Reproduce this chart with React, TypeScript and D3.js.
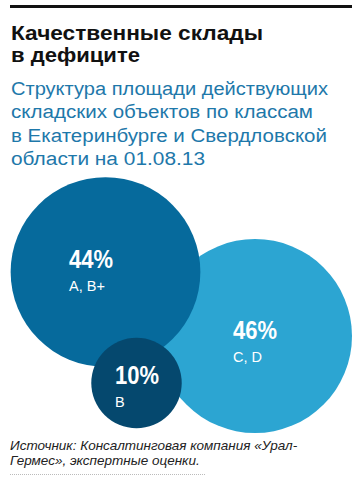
import React from "react";
import * as d3 from "d3";

const titleLines = ["Качественные склады", "в дефиците"];
const subtitleLines = [
  "Структура площади действующих",
  "складских объектов по классам",
  "в Екатеринбурге и Свердловской",
  "области на 01.08.13",
];
const sourceLines = [
  "Источник: Консалтинговая компания «Урал-",
  "Гермес», экспертные оценки.",
];

const categories = ["A, B+", "C, D", "B"];
const shares = [44, 46, 10];

// layout (bubble centers, label anchors, colors, text widths), not data
const centers: [number, number][] = [
  [105.5, 272],
  [255, 336],
  [136.5, 383],
];
const labelPos: [number, number][] = [
  [69, 268],
  [233, 339],
  [115, 384],
];
const colors = ["#066a9c", "#2ca5d2", "#05486e"];
const drawOrder = [1, 0, 2];
const titleWidths = [252, 129];
const subtitleWidths = [317, 302, 316, 194];

export default function App() {
  const W = 360;
  const H = 478;
  const r = d3.scaleSqrt().domain([0, 46]).range([0, 97]);

  return (
    <svg
      width={W}
      height={H}
      style={{ position: "absolute", left: 0, top: 0, background: "#fff" }}
    >
      <rect x={10} y={5} width={342} height={3} fill="#111" />
      {titleLines.map((t, i) => (
        <text
          key={t}
          x={11}
          y={40 + i * 22}
          fontFamily="Liberation Sans, Arial, sans-serif"
          fontWeight="bold"
          fontSize={21}
          fill="#111"
          textLength={titleWidths[i]}
          lengthAdjust="spacingAndGlyphs"
        >
          {t}
        </text>
      ))}
      {subtitleLines.map((t, i) => (
        <text
          key={t}
          x={11}
          y={95 + i * 23.3}
          fontFamily="Liberation Sans, Arial, sans-serif"
          fontSize={18}
          fill="#1e78aa"
          textLength={subtitleWidths[i]}
          lengthAdjust="spacingAndGlyphs"
        >
          {t}
        </text>
      ))}
      {drawOrder.map((i) => (
        <circle
          key={categories[i]}
          cx={centers[i][0]}
          cy={centers[i][1]}
          r={r(shares[i])}
          fill={colors[i]}
        />
      ))}
      {shares.map((s, i) => (
        <g key={"l" + i}>
          <text
            x={labelPos[i][0]}
            y={labelPos[i][1]}
            fontFamily="Liberation Sans, Arial, sans-serif"
            fontWeight="bold"
            fontSize={25}
            fill="#fff"
            textLength={44}
            lengthAdjust="spacingAndGlyphs"
          >
            {`${s}%`}
          </text>
          <text
            x={labelPos[i][0]}
            y={labelPos[i][1] + 22.5}
            fontFamily="Liberation Sans, Arial, sans-serif"
            fontSize={14.5}
            fill="#fff"
          >
            {categories[i]}
          </text>
        </g>
      ))}
      {sourceLines.map((t, i) => (
        <text
          key={t}
          x={10}
          y={450 + i * 15}
          fontFamily="Liberation Sans, Arial, sans-serif"
          fontStyle="italic"
          fontSize={13.5}
          fill="#222"
        >
          {t}
        </text>
      ))}
      <line
        x1={10}
        x2={205}
        y1={474.5}
        y2={474.5}
        stroke="#bbb"
        strokeWidth={1}
        strokeDasharray="1,1"
      />
    </svg>
  );
}
